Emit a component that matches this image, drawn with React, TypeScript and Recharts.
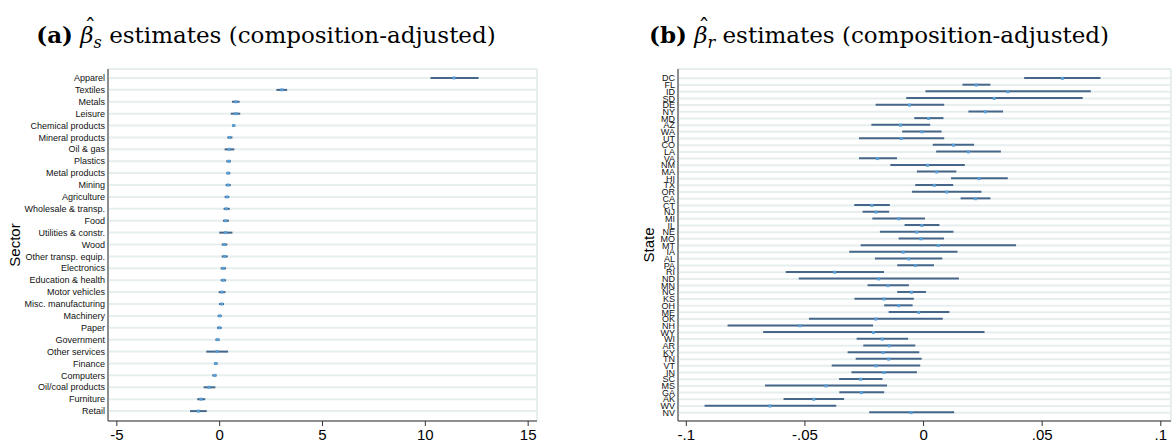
import React from 'react';
import {
	ComposedChart,
	Bar,
	Scatter,
	XAxis,
	YAxis,
	CartesianGrid,
} from 'recharts';

const sectors = [
	'Apparel', 'Textiles', 'Metals', 'Leisure', 'Chemical products', 'Mineral products',
	'Oil & gas', 'Plastics', 'Metal products', 'Mining', 'Agriculture', 'Wholesale & transp.',
	'Food', 'Utilities & constr.', 'Wood', 'Other transp. equip.', 'Electronics',
	'Education & health', 'Motor vehicles', 'Misc. manufacturing', 'Machinery', 'Paper',
	'Government', 'Other services', 'Finance', 'Computers', 'Oil/coal products', 'Furniture',
	'Retail',
];
const sectorEst = [
	11.39, 3.03, 0.79, 0.78, 0.68, 0.49, 0.47, 0.44, 0.42, 0.41, 0.36, 0.32, 0.29, 0.29,
	0.23, 0.24, 0.18, 0.18, 0.11, 0.1, 0.0, -0.02, -0.1, -0.13, -0.19, -0.24, -0.52, -0.91,
	-1.04,
];
const sectorLo = [
	10.25, 2.76, 0.6, 0.54, 0.6, 0.37, 0.24, 0.32, 0.32, 0.29, 0.24, 0.19, 0.16, -0.02,
	0.1, 0.1, 0.05, 0.05, -0.05, -0.03, -0.1, -0.13, -0.21, -0.65, -0.28, -0.36, -0.78,
	-1.09, -1.44,
];
const sectorHi = [
	12.59, 3.28, 0.97, 1.0, 0.76, 0.62, 0.71, 0.55, 0.52, 0.54, 0.47, 0.49, 0.45, 0.62,
	0.37, 0.39, 0.31, 0.31, 0.28, 0.21, 0.1, 0.1, 0.0, 0.41, -0.1, -0.15, -0.21, -0.7,
	-0.63,
];

const states = [
	'DC', 'FL', 'ID', 'SD', 'DE', 'NY', 'MD', 'AZ', 'WA', 'UT', 'CO', 'LA', 'VA', 'NM', 'MA',
	'HI', 'TX', 'OR', 'CA', 'CT', 'NJ', 'MI', 'IL', 'NE', 'MO', 'MT', 'IA', 'AL', 'PA', 'RI',
	'ND', 'MN', 'NC', 'KS', 'OH', 'ME', 'OK', 'NH', 'WY', 'WI', 'AR', 'KY', 'TN', 'VT', 'IN',
	'SC', 'MS', 'GA', 'AK', 'WV', 'NV',
];
const stateEst = [
	0.0585, 0.0222, 0.0355, 0.0298, -0.0059, 0.0261, 0.0021, -0.0097, -0.0007, -0.0094,
	0.0126, 0.0189, -0.0194, 0.0017, 0.0055, 0.0234, 0.0045, 0.0097, 0.0219, -0.0218,
	-0.0201, -0.0105, -0.0007, -0.0029, -0.0011, 0.0062, -0.0086, -0.0063, -0.0034, -0.0375,
	-0.0189, -0.015, -0.0051, -0.0166, -0.0105, -0.002, -0.0201, -0.0521, -0.0211, -0.0174,
	-0.0145, -0.017, -0.0147, -0.0201, -0.0167, -0.0265, -0.0411, -0.0262, -0.0463, -0.0647,
	-0.0052,
];
const stateLo = [
	0.0424, 0.0164, 0.0008, -0.0073, -0.0202, 0.0189, -0.0039, -0.022, -0.009, -0.0272,
	0.0039, 0.0053, -0.0272, -0.014, -0.0028, 0.0116, -0.0035, -0.0049, 0.0156, -0.0292,
	-0.0257, -0.0216, -0.008, -0.0184, -0.0105, -0.0265, -0.0313, -0.0205, -0.0111, -0.0581,
	-0.0526, -0.0236, -0.0111, -0.0291, -0.0166, -0.0147, -0.0483, -0.0826, -0.0676, -0.0282,
	-0.0254, -0.032, -0.0286, -0.0387, -0.0304, -0.0356, -0.0668, -0.0355, -0.059, -0.0923,
	-0.0229,
];
const stateHi = [
	0.0746, 0.0282, 0.0705, 0.0671, 0.0087, 0.0335, 0.0084, 0.0028, 0.0076, 0.0087,
	0.0213, 0.0326, -0.0112, 0.0174, 0.0138, 0.0355, 0.0125, 0.0244, 0.0282, -0.0142,
	-0.0145, 0.0006, 0.0067, 0.0126, 0.0086, 0.039, 0.0143, 0.0079, 0.0044, -0.0167,
	0.0149, -0.0062, 0.001, -0.0041, -0.0046, 0.0109, 0.0081, -0.0213, 0.0257, -0.0065,
	-0.0035, -0.0018, -0.0008, -0.0014, -0.0028, -0.0173, -0.0154, -0.0166, -0.0335, -0.0368,
	0.0129,
];

const sectorTicks = [-5, 0, 5, 10, 15];
const stateTicks = [-0.1, -0.05, 0, 0.05, 0.1];
const stateTickLabels = ['-.1', '-.05', '0', '.05', '.1'];

const sectorData = sectors.map((name, i) => ({
	name,
	est: sectorEst[i],
	range: [sectorLo[i], sectorHi[i]],
}));
const stateData = states.map((name, i) => ({
	name,
	est: stateEst[i],
	range: [stateLo[i], stateHi[i]],
}));

const LINE = '#46678a';
const DOT = '#5b9fd6';
const GRID = '#e7eeee';
const SANS = '"Liberation Sans", Arial, sans-serif';

const Dot = (props: any) => {
	const { cx, cy } = props;
	if (cx == null || cy == null) return null;
	return <rect x={cx - 1.5} y={cy - 1.5} width={3} height={3} fill={DOT} />;
};

// plain svg text so long sector names never wrap
const CatTick = (props: any) => {
	const { x, y, payload } = props;
	return (
		<text
			x={x}
			y={y}
			dy="0.35em"
			textAnchor="end"
			fontSize={9}
			fontFamily={SANS}
			fill="#111"
		>
			{payload.value}
		</text>
	);
};

const Beta: React.FC<{ sub: string }> = ({ sub }) => (
	<span>
		<span style={{ position: 'relative', fontStyle: 'italic' }}>
			β
			<span
				style={{
					position: 'absolute',
					left: '0.18em',
					top: '-0.4em',
					fontStyle: 'normal',
				}}
			>
				ˆ
			</span>
		</span>
		<span style={{ fontStyle: 'italic', fontSize: '0.7em', position: 'relative', top: '0.3em' }}>
			{sub}
		</span>
	</span>
);

const titleStyle: React.CSSProperties = {
	position: 'absolute',
	top: 21,
	width: 600,
	textAlign: 'center',
	fontFamily: '"DejaVu Serif", serif',
	fontSize: 23,
	lineHeight: '28px',
	whiteSpace: 'nowrap',
	color: '#000',
};

const axisLabelStyle: React.CSSProperties = {
	position: 'absolute',
	fontFamily: SANS,
	fontSize: 15,
	color: '#000',
	transform: 'translate(-50%, -50%) rotate(-90deg)',
	whiteSpace: 'nowrap',
};

const App: React.FC = () => (
	<div
		style={{
			position: 'absolute',
			left: 0,
			top: 0,
			width: 1174,
			height: 443,
			background: '#fff',
			overflow: 'hidden',
		}}
	>
		<div style={{ ...titleStyle, left: 266 - 300 }}>
			<b>(a)</b> <Beta sub="s" /> estimates (composition-adjusted)
		</div>
		<div style={{ ...titleStyle, left: 879 - 300 }}>
			<b>(b)</b> <Beta sub="r" /> estimates (composition-adjusted)
		</div>
		<div style={{ ...axisLabelStyle, left: 14, top: 245 }}>Sector</div>
		<div style={{ ...axisLabelStyle, left: 648, top: 245 }}>State</div>

		<div style={{ position: 'absolute', left: 0, top: 60 }}>
			<ComposedChart
				width={560}
				height={383}
				data={sectorData}
				layout="vertical"
				margin={{ top: 9, right: 23, bottom: 0, left: 8 }}
			>
				<XAxis xAxisId="zero" type="number" domain={[-5.43, 15.43]} ticks={[0]} hide />
				<CartesianGrid xAxisId="zero" stroke={GRID} strokeWidth={2} />
				<XAxis
					type="number"
					domain={[-5.43, 15.43]}
					ticks={sectorTicks}
					allowDataOverflow
					height={22}
					tickSize={5}
					tickMargin={3}
					stroke="#333"
					tick={{ fontSize: 15, fontFamily: SANS, fill: '#000' }}
				/>
				<YAxis
					type="category"
					dataKey="name"
					width={100}
					interval={0}
					tickSize={0}
					tickMargin={3}
					padding={{ top: 3, bottom: 4 }}
					stroke="#333"
					tick={CatTick}
				/>
				<Bar dataKey="range" fill={LINE} barSize={2} isAnimationActive={false} />
				<Scatter dataKey="est" shape={Dot} isAnimationActive={false} />
			</ComposedChart>
		</div>

		<div style={{ position: 'absolute', left: 560, top: 60 }}>
			<ComposedChart
				width={614}
				height={383}
				data={stateData}
				layout="vertical"
				margin={{ top: 9, right: 3, bottom: 0, left: 78 }}
			>
				<XAxis xAxisId="zero" type="number" domain={[-0.1035, 0.1043]} ticks={[0]} hide />
				<CartesianGrid xAxisId="zero" stroke={GRID} strokeWidth={2} />
				<XAxis
					type="number"
					domain={[-0.1035, 0.1043]}
					ticks={stateTicks}
					allowDataOverflow
					height={22}
					tickSize={5}
					tickMargin={3}
					stroke="#333"
					tickFormatter={(v: number) => stateTickLabels[stateTicks.indexOf(v)] ?? String(v)}
					tick={{ fontSize: 15, fontFamily: SANS, fill: '#000' }}
				/>
				<YAxis
					type="category"
					dataKey="name"
					width={40}
					interval={0}
					tickSize={0}
					tickMargin={3}
					padding={{ top: 6, bottom: 5 }}
					stroke="#333"
					tick={CatTick}
				/>
				<Bar dataKey="range" fill={LINE} barSize={2} isAnimationActive={false} />
				<Scatter dataKey="est" shape={Dot} isAnimationActive={false} />
			</ComposedChart>
		</div>
	</div>
);

export default App;
